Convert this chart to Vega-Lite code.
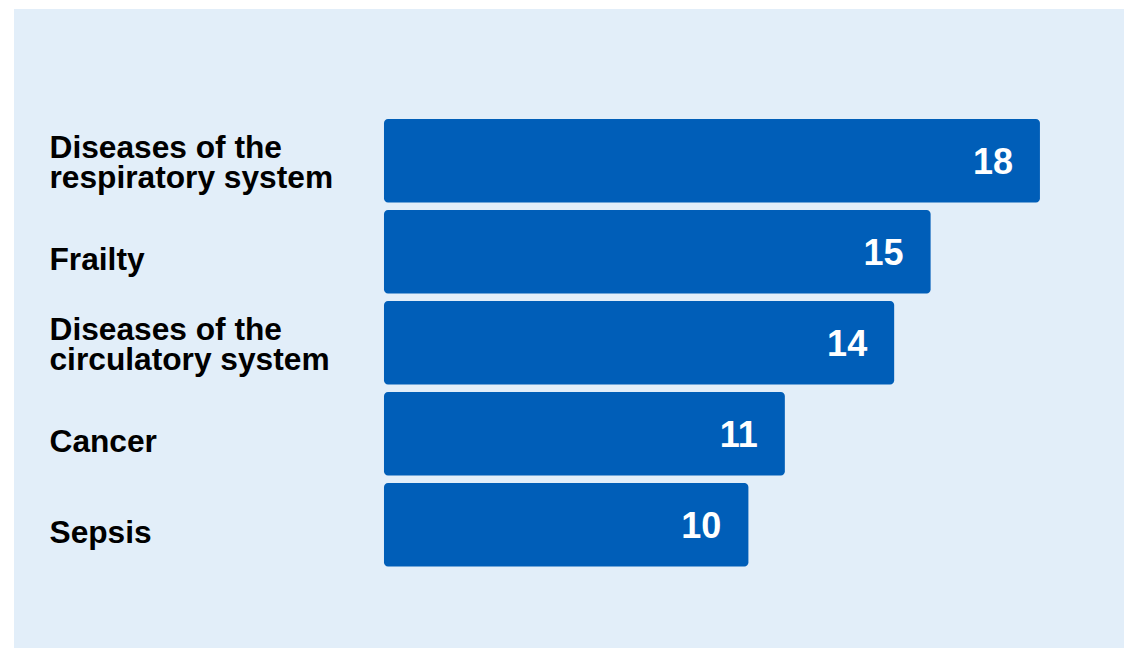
{
  "$schema": "https://vega.github.io/schema/vega-lite/v6.json",
  "autosize": {"type": "none"},
  "padding": {"left": 14, "top": 9, "right": 0, "bottom": 0},
  "width": 1110,
  "height": 639,
  "background": "#ffffff",
  "config": {
    "view": {"fill": "#e2eef9", "stroke": null},
    "font": "Liberation Sans"
  },
  "data": {
    "values": [
      {"cause": "Diseases of the respiratory system", "value": 18},
      {"cause": "Frailty", "value": 15},
      {"cause": "Diseases of the circulatory system", "value": 14},
      {"cause": "Cancer", "value": 11},
      {"cause": "Sepsis", "value": 10}
    ]
  },
  "encoding": {
    "y": {
      "field": "cause",
      "type": "nominal",
      "sort": null,
      "scale": {"range": [110, 557.5], "paddingInner": 0.0824, "paddingOuter": 0},
      "axis": {
        "title": null,
        "orient": "left",
        "domain": false,
        "ticks": false,
        "tickSize": 0,
        "labelPadding": -35,
        "labelAlign": "left",
        "labelBaseline": "middle",
        "labelOffset": {"condition": {"test": "indexof(datum.value, ' of the ') >= 0", "value": -13}, "value": 8},
        "labelFont": "Liberation Sans",
        "labelFontSize": 31.7,
        "labelFontWeight": "bold",
        "labelColor": "#000000",
        "labelLineHeight": 30,
        "labelLimit": 600,
        "labelExpr": "split(replace(datum.value, ' of the ', ' of the|'), '|')"
      }
    }
  },
  "layer": [
    {
      "mark": {"type": "bar", "color": "#005eb8", "cornerRadiusEnd": 4},
      "encoding": {
        "x": {
          "field": "value",
          "type": "quantitative",
          "scale": {"domain": [-10.153, 20.307], "nice": false, "zero": false},
          "axis": null
        },
        "x2": {"datum": 0}
      }
    },
    {
      "mark": {
        "type": "text",
        "align": "right",
        "baseline": "middle",
        "dx": -27,
        "dy": 2,
        "font": "Liberation Sans",
        "fontSize": 36,
        "fontWeight": "bold",
        "color": "#ffffff"
      },
      "encoding": {
        "x": {"field": "value", "type": "quantitative"},
        "text": {"field": "value", "type": "quantitative"}
      }
    }
  ]
}
